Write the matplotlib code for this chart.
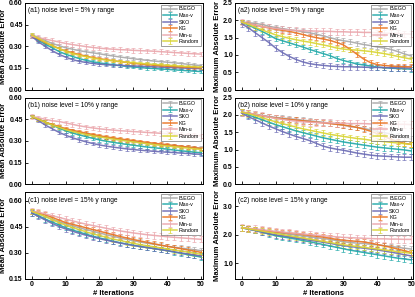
import numpy as np
import matplotlib
matplotlib.use("Agg")
import matplotlib.pyplot as plt
from matplotlib.ticker import MultipleLocator

plt.rcParams['font.family'] = ['Liberation Sans', 'DejaVu Sans']

iters = list(range(0, 51, 2))
methods = ['B.EGO', 'Max-v', 'SKO', 'KG', 'Min-u', 'Random']
colors = ['#a8a8a8', '#1fa8a8', '#6a6ab4', '#ea7320', '#eaa6ac', '#d8d432']

# (a1) mean absolute error, noise 5%
a1_bego = [0.38, 0.36, 0.34, 0.32, 0.305, 0.29, 0.28, 0.27, 0.262, 0.255, 0.248, 0.24, 0.233, 0.226, 0.22, 0.214, 0.208, 0.203, 0.198, 0.194, 0.19, 0.186, 0.181, 0.176, 0.171, 0.166]
a1_maxv = [0.37, 0.34, 0.315, 0.29, 0.265, 0.245, 0.23, 0.215, 0.203, 0.193, 0.185, 0.178, 0.172, 0.166, 0.161, 0.157, 0.153, 0.149, 0.146, 0.143, 0.14, 0.137, 0.134, 0.131, 0.128, 0.125]
a1_sko = [0.37, 0.33, 0.30, 0.27, 0.245, 0.225, 0.208, 0.196, 0.188, 0.181, 0.176, 0.173, 0.17, 0.168, 0.166, 0.164, 0.162, 0.16, 0.158, 0.156, 0.154, 0.152, 0.15, 0.148, 0.147, 0.145]
a1_kg = [0.375, 0.35, 0.325, 0.305, 0.285, 0.268, 0.255, 0.243, 0.232, 0.222, 0.214, 0.207, 0.2, 0.194, 0.188, 0.182, 0.177, 0.173, 0.169, 0.165, 0.162, 0.159, 0.157, 0.155, 0.153, 0.151]
a1_minu = [0.37, 0.36, 0.35, 0.34, 0.33, 0.32, 0.312, 0.305, 0.298, 0.292, 0.287, 0.283, 0.28, 0.277, 0.275, 0.272, 0.27, 0.268, 0.266, 0.263, 0.26, 0.257, 0.254, 0.251, 0.248, 0.246]
a1_rand = [0.38, 0.355, 0.33, 0.305, 0.285, 0.265, 0.25, 0.238, 0.228, 0.219, 0.211, 0.205, 0.199, 0.194, 0.19, 0.186, 0.182, 0.178, 0.175, 0.172, 0.169, 0.166, 0.163, 0.16, 0.158, 0.156]
a1_err = [0.012, 0.01, 0.01, 0.01, 0.015, 0.01]

# (a2) maximum absolute error, noise 5%
a2_bego = [1.95, 1.93, 1.91, 1.88, 1.83, 1.79, 1.76, 1.73, 1.70, 1.67, 1.64, 1.6, 1.55, 1.5, 1.45, 1.41, 1.38, 1.34, 1.3, 1.27, 1.23, 1.2, 1.16, 1.1, 1.03, 0.97]
a2_maxv = [1.95, 1.86, 1.77, 1.68, 1.58, 1.47, 1.41, 1.35, 1.29, 1.23, 1.16, 1.1, 1.04, 0.98, 0.9, 0.84, 0.79, 0.74, 0.71, 0.68, 0.65, 0.63, 0.62, 0.61, 0.6, 0.59]
a2_sko = [1.9, 1.78, 1.64, 1.5, 1.36, 1.2, 1.07, 0.96, 0.87, 0.8, 0.75, 0.72, 0.7, 0.68, 0.67, 0.66, 0.66, 0.65, 0.65, 0.64, 0.64, 0.64, 0.63, 0.63, 0.63, 0.62]
a2_kg = [1.95, 1.9, 1.86, 1.82, 1.78, 1.74, 1.71, 1.68, 1.64, 1.59, 1.54, 1.5, 1.46, 1.42, 1.36, 1.29, 1.16, 1.02, 0.88, 0.78, 0.72, 0.7, 0.68, 0.67, 0.66, 0.66]
a2_minu = [1.95, 1.9, 1.86, 1.82, 1.79, 1.76, 1.74, 1.72, 1.71, 1.7, 1.69, 1.69, 1.68, 1.68, 1.67, 1.67, 1.66, 1.66, 1.65, 1.65, 1.64, 1.63, 1.62, 1.62, 1.61, 1.6]
a2_rand = [1.95, 1.88, 1.8, 1.72, 1.65, 1.58, 1.53, 1.48, 1.44, 1.4, 1.37, 1.33, 1.29, 1.25, 1.2, 1.17, 1.15, 1.14, 1.12, 1.1, 1.07, 1.04, 1.0, 0.96, 0.92, 0.88]
a2_err = [0.07, 0.07, 0.08, 0.07, 0.09, 0.07]

# (b1) mean absolute error, noise 10%
b1_bego = [0.47, 0.45, 0.43, 0.41, 0.395, 0.38, 0.368, 0.357, 0.347, 0.338, 0.33, 0.322, 0.315, 0.308, 0.302, 0.296, 0.29, 0.284, 0.279, 0.274, 0.27, 0.265, 0.261, 0.257, 0.253, 0.25]
b1_maxv = [0.47, 0.45, 0.43, 0.41, 0.39, 0.37, 0.355, 0.342, 0.33, 0.318, 0.307, 0.298, 0.29, 0.283, 0.276, 0.27, 0.264, 0.258, 0.253, 0.248, 0.243, 0.237, 0.232, 0.227, 0.222, 0.218]
b1_sko = [0.47, 0.44, 0.41, 0.385, 0.36, 0.34, 0.322, 0.307, 0.294, 0.282, 0.272, 0.264, 0.257, 0.251, 0.245, 0.24, 0.236, 0.232, 0.228, 0.225, 0.222, 0.219, 0.216, 0.213, 0.21, 0.207]
b1_kg = [0.47, 0.45, 0.43, 0.415, 0.4, 0.385, 0.374, 0.364, 0.354, 0.345, 0.336, 0.328, 0.321, 0.314, 0.308, 0.302, 0.296, 0.29, 0.284, 0.279, 0.274, 0.268, 0.263, 0.258, 0.253, 0.248]
b1_minu = [0.47, 0.46, 0.45, 0.44, 0.435, 0.425, 0.415, 0.405, 0.397, 0.39, 0.384, 0.379, 0.375, 0.371, 0.368, 0.365, 0.362, 0.359, 0.356, 0.353, 0.35, 0.347, 0.344, 0.341, 0.338, 0.335]
b1_rand = [0.47, 0.45, 0.43, 0.41, 0.395, 0.378, 0.366, 0.355, 0.345, 0.336, 0.328, 0.32, 0.313, 0.306, 0.299, 0.293, 0.287, 0.281, 0.275, 0.27, 0.265, 0.26, 0.255, 0.25, 0.245, 0.241]
b1_err = [0.012, 0.012, 0.012, 0.012, 0.016, 0.012]

# (b2) maximum absolute error, noise 10%
b2_bego = [2.08, 2.05, 2.02, 1.99, 1.96, 1.93, 1.91, 1.89, 1.87, 1.85, 1.83, 1.81, 1.79, 1.76, 1.73, 1.7, 1.67, 1.64, 1.61, 1.57, 1.53, 1.49, 1.45, 1.4, 1.35, 1.3]
b2_maxv = [2.08, 2.0, 1.93, 1.86, 1.79, 1.72, 1.66, 1.6, 1.54, 1.49, 1.44, 1.39, 1.34, 1.3, 1.26, 1.22, 1.19, 1.16, 1.13, 1.1, 1.07, 1.05, 1.03, 1.01, 0.99, 0.96]
b2_sko = [2.05, 1.95, 1.86, 1.77, 1.68, 1.6, 1.52, 1.45, 1.38, 1.32, 1.26, 1.18, 1.1, 1.05, 1.01, 0.98, 0.94, 0.9, 0.87, 0.84, 0.82, 0.81, 0.8, 0.79, 0.78, 0.78]
b2_kg = [2.08, 2.05, 2.01, 1.97, 1.94, 1.91, 1.89, 1.87, 1.85, 1.83, 1.81, 1.79, 1.77, 1.75, 1.73, 1.71, 1.68, 1.64, 1.59, 1.53, 1.46, 1.38, 1.3, 1.23, 1.18, 1.15]
b2_minu = [2.08, 2.05, 2.02, 1.98, 1.94, 1.9, 1.87, 1.84, 1.82, 1.8, 1.79, 1.78, 1.77, 1.77, 1.76, 1.76, 1.75, 1.75, 1.75, 1.74, 1.74, 1.74, 1.73, 1.73, 1.73, 1.72]
b2_rand = [2.08, 2.03, 1.98, 1.92, 1.86, 1.8, 1.75, 1.7, 1.65, 1.6, 1.56, 1.52, 1.48, 1.44, 1.41, 1.38, 1.35, 1.32, 1.3, 1.27, 1.25, 1.23, 1.21, 1.19, 1.17, 1.15]
b2_err = [0.08, 0.08, 0.08, 0.08, 0.1, 0.08]

# (c1) mean absolute error, noise 15%
c1_bego = [0.54, 0.525, 0.51, 0.495, 0.48, 0.468, 0.456, 0.445, 0.435, 0.425, 0.415, 0.405, 0.396, 0.387, 0.378, 0.37, 0.363, 0.356, 0.35, 0.344, 0.338, 0.333, 0.328, 0.323, 0.318, 0.313]
c1_maxv = [0.53, 0.515, 0.495, 0.478, 0.462, 0.445, 0.432, 0.42, 0.408, 0.397, 0.386, 0.377, 0.368, 0.359, 0.351, 0.344, 0.337, 0.331, 0.325, 0.319, 0.313, 0.305, 0.298, 0.29, 0.283, 0.276]
c1_sko = [0.53, 0.51, 0.49, 0.47, 0.453, 0.438, 0.425, 0.413, 0.402, 0.392, 0.382, 0.373, 0.365, 0.357, 0.35, 0.343, 0.337, 0.331, 0.325, 0.319, 0.313, 0.306, 0.3, 0.294, 0.288, 0.282]
c1_kg = [0.54, 0.53, 0.52, 0.505, 0.49, 0.475, 0.465, 0.455, 0.445, 0.435, 0.425, 0.415, 0.405, 0.395, 0.386, 0.377, 0.369, 0.361, 0.353, 0.345, 0.338, 0.331, 0.324, 0.317, 0.31, 0.303]
c1_minu = [0.54, 0.535, 0.525, 0.515, 0.505, 0.495, 0.485, 0.475, 0.466, 0.458, 0.45, 0.442, 0.434, 0.427, 0.421, 0.415, 0.41, 0.405, 0.401, 0.397, 0.393, 0.39, 0.387, 0.384, 0.381, 0.378]
c1_rand = [0.54, 0.525, 0.51, 0.492, 0.475, 0.46, 0.447, 0.434, 0.422, 0.41, 0.4, 0.39, 0.38, 0.372, 0.363, 0.355, 0.348, 0.341, 0.335, 0.329, 0.323, 0.317, 0.311, 0.305, 0.298, 0.292]
c1_err = [0.015, 0.015, 0.015, 0.015, 0.018, 0.015]

# (c2) maximum absolute error, noise 15%
c2_bego = [2.25, 2.22, 2.18, 2.15, 2.12, 2.08, 2.05, 2.02, 1.99, 1.96, 1.93, 1.9, 1.87, 1.84, 1.8, 1.76, 1.73, 1.71, 1.69, 1.67, 1.65, 1.62, 1.59, 1.56, 1.53, 1.5]
c2_maxv = [2.25, 2.2, 2.15, 2.09, 2.03, 1.97, 1.93, 1.89, 1.85, 1.8, 1.76, 1.71, 1.66, 1.61, 1.56, 1.51, 1.46, 1.42, 1.38, 1.34, 1.3, 1.26, 1.22, 1.18, 1.15, 1.12]
c2_sko = [2.25, 2.2, 2.15, 2.1, 2.05, 2.0, 1.97, 1.93, 1.89, 1.85, 1.81, 1.78, 1.74, 1.7, 1.66, 1.62, 1.59, 1.56, 1.53, 1.5, 1.47, 1.43, 1.39, 1.35, 1.3, 1.26]
c2_kg = [2.25, 2.22, 2.19, 2.16, 2.13, 2.1, 2.08, 2.06, 2.04, 2.01, 1.98, 1.95, 1.92, 1.88, 1.84, 1.81, 1.79, 1.77, 1.75, 1.71, 1.66, 1.61, 1.56, 1.5, 1.44, 1.38]
c2_minu = [2.25, 2.23, 2.21, 2.18, 2.15, 2.12, 2.1, 2.07, 2.05, 2.03, 2.01, 1.99, 1.97, 1.95, 1.93, 1.91, 1.9, 1.89, 1.88, 1.87, 1.86, 1.86, 1.85, 1.85, 1.84, 1.84]
c2_rand = [2.25, 2.21, 2.17, 2.13, 2.09, 2.05, 2.01, 1.97, 1.93, 1.89, 1.85, 1.81, 1.77, 1.73, 1.69, 1.65, 1.62, 1.59, 1.56, 1.53, 1.5, 1.47, 1.44, 1.41, 1.38, 1.35]
c2_err = [0.1, 0.1, 0.1, 0.1, 0.12, 0.1]

panels = [
    ("(a1) noise level = 5% y range", [a1_bego, a1_maxv, a1_sko, a1_kg, a1_minu, a1_rand], a1_err, (0, 0.6), [0, 0.15, 0.30, 0.45, 0.60], "%.2f", "Mean Absolute Error"),
    ("(a2) noise level = 5% y range", [a2_bego, a2_maxv, a2_sko, a2_kg, a2_minu, a2_rand], a2_err, (0, 2.5), [0, 0.5, 1.0, 1.5, 2.0, 2.5], "%.1f", "Maximum Absolute Error"),
    ("(b1) noise level = 10% y range", [b1_bego, b1_maxv, b1_sko, b1_kg, b1_minu, b1_rand], b1_err, (0, 0.6), [0, 0.15, 0.30, 0.45, 0.60], "%.2f", "Mean Absolute Error"),
    ("(b2) noise level = 10% y range", [b2_bego, b2_maxv, b2_sko, b2_kg, b2_minu, b2_rand], b2_err, (0, 2.5), [0, 0.5, 1.0, 1.5, 2.0, 2.5], "%.1f", "Maximum Absolute Error"),
    ("(c1) noise level = 15% y range", [c1_bego, c1_maxv, c1_sko, c1_kg, c1_minu, c1_rand], c1_err, (0.15, 0.65), [0.15, 0.30, 0.45, 0.60], "%.2f", "Mean Absolute Error"),
    ("(c2) noise level = 15% y range", [c2_bego, c2_maxv, c2_sko, c2_kg, c2_minu, c2_rand], c2_err, (0.45, 3.5), [1.0, 2.0, 3.0], "%.1f", "Maximum Absolute Error"),
]

fig, axes = plt.subplots(3, 2, figsize=(4.15, 2.97), dpi=100)
fig.subplots_adjust(left=0.06, right=0.995, bottom=0.061, top=0.99, wspace=0.18, hspace=0.092)

for ax, (title, series, errs, ylim, yticks, fmt, ylab) in zip(axes.flat, panels):
    for name, vals, err, c in zip(methods, series, errs, colors):
        ax.errorbar(iters, vals, yerr=err, color=c, lw=1.1, elinewidth=0.6,
                    capsize=1.3, capthick=0.5, ecolor=c, alpha=0.9, label=name)
    ax.set_xlim(-2, 50.5)
    ax.set_ylim(*ylim)
    ax.set_yticks(yticks)
    ax.set_yticklabels([fmt % t for t in yticks], fontsize=5, fontweight='bold')
    ax.xaxis.set_major_locator(MultipleLocator(10))
    ax.xaxis.set_minor_locator(MultipleLocator(5))
    ax.tick_params(direction='in', length=2, width=0.6, pad=1.5)
    ax.tick_params(which='minor', direction='in', length=1.2, width=0.5)
    for s in ax.spines.values():
        s.set_linewidth(0.7)
    ax.set_ylabel(ylab, fontsize=5.5, fontweight='bold', labelpad=1.5)
    ax.text(0.015, 0.95, title, transform=ax.transAxes, fontsize=4.8, va='top', ha='left')
    leg = ax.legend(loc='upper right', fontsize=3.9, frameon=True, fancybox=False,
                    borderaxespad=0.3, handlelength=2.6, labelspacing=0.28,
                    handletextpad=0.4, borderpad=0.35)
    leg.get_frame().set_linewidth(0.5)
    leg.get_frame().set_edgecolor('#555555')

for ax in axes[:2].flat:
    ax.set_xticklabels([])
for ax in axes[2]:
    ax.set_xticklabels([str(int(t)) for t in ax.get_xticks()], fontsize=5, fontweight='bold')
    ax.set_xlabel("# Iterations", fontsize=5.5, fontweight='bold', labelpad=1.5)

fig.savefig("out.png", dpi=100)
